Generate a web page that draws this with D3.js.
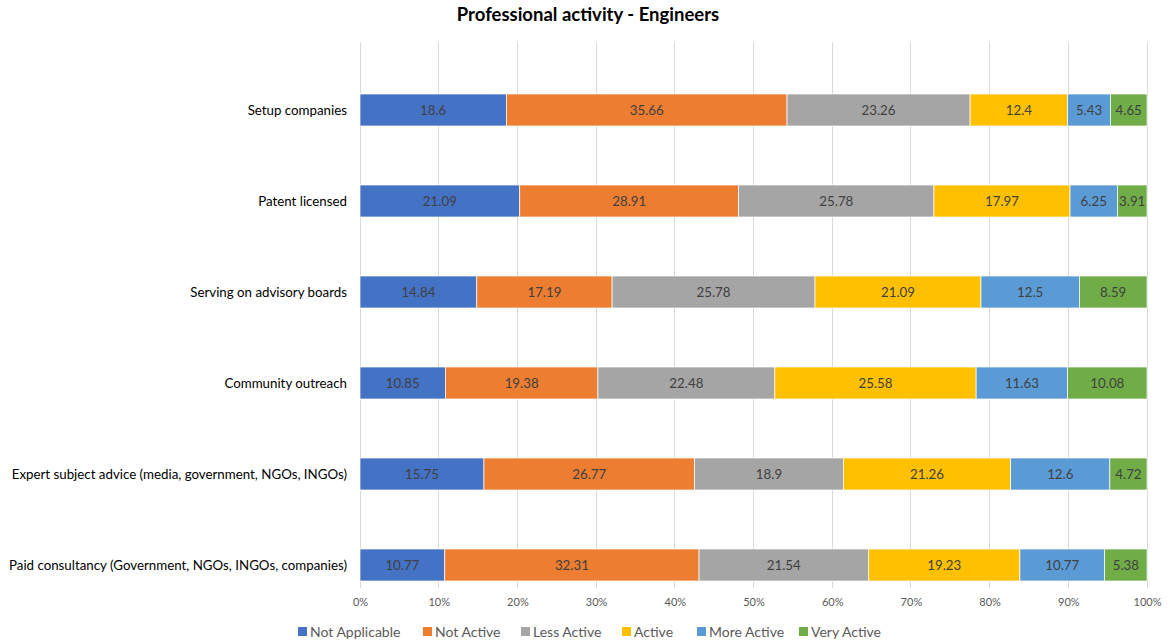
<!DOCTYPE html>
<html>
<head>
<meta charset="utf-8">
<script src="https://cdn.jsdelivr.net/npm/d3@7"></script>
<style>
  html, body { margin: 0; padding: 0; background: #fff; }
  svg { display: block; font-family: Lato, "Open Sans", sans-serif; }
</style>
</head>
<body>
<svg id="chart" width="1170" height="644"></svg>
<script>
// Activities, top to bottom
const categories = [
  "Setup companies",
  "Patent licensed",
  "Serving on advisory boards",
  "Community outreach",
  "Expert subject advice (media, government, NGOs, INGOs)",
  "Paid consultancy (Government, NGOs, INGOs, companies)"
];

// Percentage of respondents per activity level
const notApplicable = [18.6, 21.09, 14.84, 10.85, 15.75, 10.77];
const notActive     = [35.66, 28.91, 17.19, 19.38, 26.77, 32.31];
const lessActive    = [23.26, 25.78, 25.78, 22.48, 18.9, 21.54];
const active        = [12.4, 17.97, 21.09, 25.58, 21.26, 19.23];
const moreActive    = [5.43, 6.25, 12.5, 11.63, 12.6, 10.77];
const veryActive    = [4.65, 3.91, 8.59, 10.08, 4.72, 5.38];

const seriesNames = ["Not Applicable", "Not Active", "Less Active", "Active", "More Active", "Very Active"];
const seriesValues = [notApplicable, notActive, lessActive, active, moreActive, veryActive];
const seriesColors = ["#4472C4", "#ED7D31", "#A5A5A5", "#FFC000", "#5B9BD5", "#70AD47"];

const xTicks = [0, 0.1, 0.2, 0.3, 0.4, 0.5, 0.6, 0.7, 0.8, 0.9, 1];

// Table for the stack layout
const rows = categories.map((c, i) => {
  const r = { category: c };
  seriesNames.forEach((s, j) => { r[s] = seriesValues[j][i]; });
  return r;
});

const svg = d3.select("#chart");
const plot = { left: 360, right: 1147, top: 42, bottom: 588 };

const x = d3.scaleLinear().domain([0, 1]).range([plot.left, plot.right]);
const y = d3.scaleBand().domain(categories).range([plot.top, plot.bottom]);
const barOffset = 52, barHeight = 32;

// Title
svg.append("text")
  .attr("x", 588).attr("y", 21)
  .attr("text-anchor", "middle")
  .attr("font-size", 18.5).attr("font-weight", "bold")
  .attr("fill", "#000")
  .text("Professional activity - Engineers");

// Vertical gridlines
svg.append("g").selectAll("line")
  .data(xTicks).join("line")
  .attr("x1", d => x(d)).attr("x2", d => x(d))
  .attr("y1", plot.top).attr("y2", plot.bottom)
  .attr("stroke", "#D9D9D9").attr("stroke-width", 1)
  .attr("shape-rendering", "crispEdges");

// X axis tick labels
const xAxis = d3.axisBottom(x).tickValues(xTicks).tickFormat(d3.format(".0%")).tickSize(0).tickPadding(0);
const gx = svg.append("g").attr("transform", `translate(0,${plot.bottom + 10})`).call(xAxis);
gx.select(".domain").remove();
gx.selectAll("text").attr("font-size", 11).attr("fill", "#595959")
  .attr("font-family", "Lato, 'Open Sans', sans-serif");

// Category labels
svg.append("g").selectAll("text")
  .data(categories).join("text")
  .attr("x", 347)
  .attr("y", d => y(d) + barOffset + barHeight / 2)
  .attr("dy", "0.35em")
  .attr("text-anchor", "end")
  .attr("font-size", 13.3).attr("fill", "#000")
  .text(d => d);

// 100% stacked bars: each row normalised to its own total
const stack = d3.stack().keys(seriesNames).offset(d3.stackOffsetExpand)(rows);
const layers = svg.append("g").selectAll("g")
  .data(stack).join("g")
  .attr("fill", (d, i) => seriesColors[i]);

layers.selectAll("rect")
  .data(d => d).join("rect")
  .attr("x", d => x(d[0]))
  .attr("width", d => x(d[1]) - x(d[0]))
  .attr("y", d => y(d.data.category) + barOffset)
  .attr("height", barHeight)
  .attr("stroke", "#fff").attr("stroke-width", 0.7);

// Value labels centred in each segment
layers.selectAll("text")
  .data(d => d.map(v => ({ v, key: d.key }))).join("text")
  .attr("x", d => (x(d.v[0]) + x(d.v[1])) / 2)
  .attr("y", d => y(d.v.data.category) + barOffset + barHeight / 2)
  .attr("dy", "0.35em")
  .attr("text-anchor", "middle")
  .attr("font-size", 13.3).attr("fill", "#404040")
  .text(d => d.v.data[d.key]);

// Legend
const legendX = [298, 423, 521, 622, 697, 799];
const legend = svg.append("g").selectAll("g")
  .data(seriesNames).join("g")
  .attr("transform", (d, i) => `translate(${legendX[i]},632)`);
legend.append("rect")
  .attr("x", 0).attr("y", -5).attr("width", 9).attr("height", 9)
  .attr("fill", (d, i) => seriesColors[i]);
legend.append("text")
  .attr("x", 12).attr("y", 0).attr("dy", "0.35em")
  .attr("font-size", 14).attr("fill", "#595959")
  .text(d => d);
</script>
</body>
</html>
